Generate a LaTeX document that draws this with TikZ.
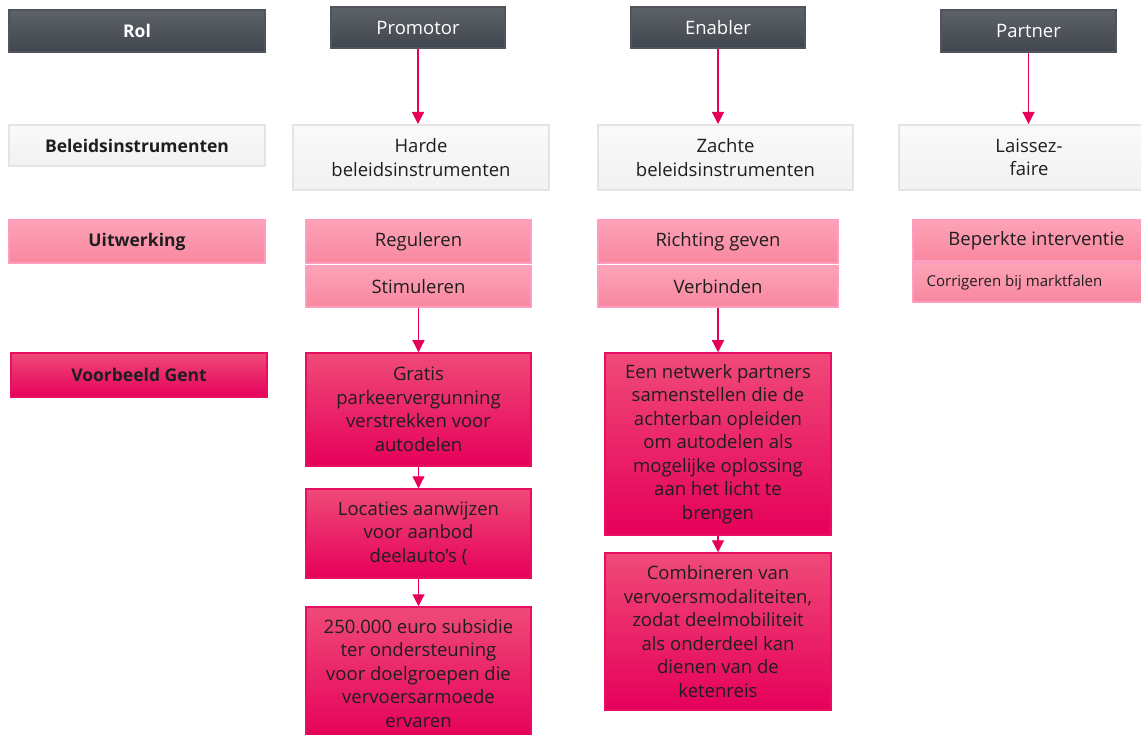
\documentclass[tikz,border=0pt]{standalone}
\usepackage{fontspec}
\setmainfont{Open Sans}
\usetikzlibrary{arrows.meta}

\definecolor{darkTop}{HTML}{5D6269}
\definecolor{darkBot}{HTML}{41464E}
\definecolor{darkLine}{HTML}{50555D}
\definecolor{greyTop}{HTML}{FAFAFA}
\definecolor{greyBot}{HTML}{F1F1F1}
\definecolor{greyLine}{HTML}{E4E4E4}
\definecolor{pinkTop}{HTML}{FDA3B7}
\definecolor{pinkBot}{HTML}{F8879F}
\definecolor{pinkLine}{HTML}{FD9EC0}
\definecolor{magTop}{HTML}{EF4A78}
\definecolor{magBot}{HTML}{E6005A}
\definecolor{magLine}{HTML}{E80F62}
\definecolor{arrowCol}{HTML}{E6005A}
\definecolor{inkDark}{HTML}{1E1E1E}

\tikzset{
  box/.style={rectangle, inner sep=0pt, align=center, text=inkDark,
    font=\fontsize{18.5}{23.5}\selectfont},
  rolebox/.style={box, top color=darkTop, bottom color=darkBot, draw=darkLine,
    line width=1.5pt, text=white},
  instrbox/.style={box, top color=greyTop, bottom color=greyBot, draw=greyLine,
    line width=2pt},
  workbox/.style={box, top color=pinkTop, bottom color=pinkBot, draw=pinkLine,
    line width=2pt},
  examplebox/.style={box, top color=magTop, bottom color=magBot, draw=magLine,
    line width=1.5pt},
  rowhead/.style={font=\fontsize{17.5}{22}\selectfont\bfseries},
  flow/.style={draw=arrowCol, line width=1.2pt,
    -{Triangle[width=12pt,length=12pt]}},
}

\begin{document}
\begin{tikzpicture}[x=1pt, y=-1pt]
\useasboundingbox (0,0) rectangle (1141,735);
\clip (0,0) rectangle (1141,735);

% Row 1: roles
\node[rolebox, rowhead, minimum width=256pt, minimum height=42pt] (rol) at (137,31) {Rol};
\node[rolebox, minimum width=174pt, minimum height=41pt] (promotor) at (418,27.5) {Promotor};
\node[rolebox, minimum width=174pt, minimum height=41pt] (enabler) at (718,27.5) {Enabler};
\node[rolebox, minimum width=175pt, minimum height=42pt] (partner) at (1028.5,31) {Partner};

% Row 2: policy instruments
\node[instrbox, rowhead, minimum width=256pt, minimum height=41pt] (beleid) at (137,145.5) {Beleidsinstrumenten};
\node[instrbox, minimum width=256pt, minimum height=65pt] (harde) at (421,157.5) {Harde\\beleidsinstrumenten};
\node[instrbox, minimum width=255pt, minimum height=65pt] (zachte) at (725.5,157.5) {Zachte\\beleidsinstrumenten};
\node[instrbox, minimum width=260pt, minimum height=65pt] (laissez) at (1029,157.5) {Laissez-\\faire};

% Row 3: elaboration
\node[workbox, rowhead, minimum width=256pt, minimum height=43pt] (uitwerking) at (137,241.5) {Uitwerking};
\node[workbox, minimum width=225pt, minimum height=43pt] (reguleren) at (418.5,241.5) {Reguleren};
\node[workbox, minimum width=225pt, minimum height=41pt] (stimuleren) at (418.5,286.5) {Stimuleren};
\node[workbox, minimum width=240pt, minimum height=43pt] (richting) at (718,241.5) {Richting geven};
\node[workbox, minimum width=240pt, minimum height=41pt] (verbinden) at (718,286.5) {Verbinden};
\node[workbox, minimum width=247pt, minimum height=41pt] (beperkt) at (1036.5,240.5) {Beperkte interventie};
\node[workbox, minimum width=247pt, minimum height=39pt, font=\fontsize{15}{19}\selectfont] (corrigeren) at (1036.5,282.5) {Corrigeren bij marktfalen\hspace*{44pt}};

% Row 4: examples from Gent
\node[examplebox, rowhead, minimum width=256pt, minimum height=44pt] (voorbeeld) at (139,375) {Voorbeeld Gent};
\node[examplebox, minimum width=225pt, minimum height=113pt] (gratis) at (418.5,409.5)
  {Gratis\\parkeervergunning\\verstrekken voor\\autodelen};
\node[examplebox, minimum width=225pt, minimum height=89pt] (locaties) at (418.5,533.5)
  {Locaties aanwijzen\\voor aanbod\\deelauto’s (};
\node[examplebox, minimum width=225pt, minimum height=133pt] (subsidie) at (418.5,673.5)
  {250.000 euro subsidie\\ter ondersteuning\\voor doelgroepen die\\vervoersarmoede\\ervaren};
\node[examplebox, minimum width=226pt, minimum height=182pt] (netwerk) at (718,444)
  {Een netwerk partners\\samenstellen die de\\achterban opleiden\\om autodelen als\\mogelijke oplossing\\aan het licht te\\brengen};
\node[examplebox, minimum width=226pt, minimum height=157pt] (combineren) at (718,631.5)
  {Combineren van\\vervoersmodaliteiten,\\zodat deelmobiliteit\\als onderdeel kan\\dienen van de\\ketenreis};

% Connectors
\draw[flow] (promotor.south) -- (harde.north -| promotor.south);
\draw[flow] (enabler.south) -- (zachte.north -| enabler.south);
\draw[flow] (partner.south) -- (laissez.north -| partner.south);
\draw[flow] (stimuleren.south) -- (gratis.north);
\draw[flow] (verbinden.south) -- (netwerk.north);
\draw[flow] (gratis.south) -- (locaties.north);
\draw[flow] (locaties.south) -- (subsidie.north);
\draw[flow] (netwerk.south) -- (combineren.north);
\end{tikzpicture}
\end{document}
